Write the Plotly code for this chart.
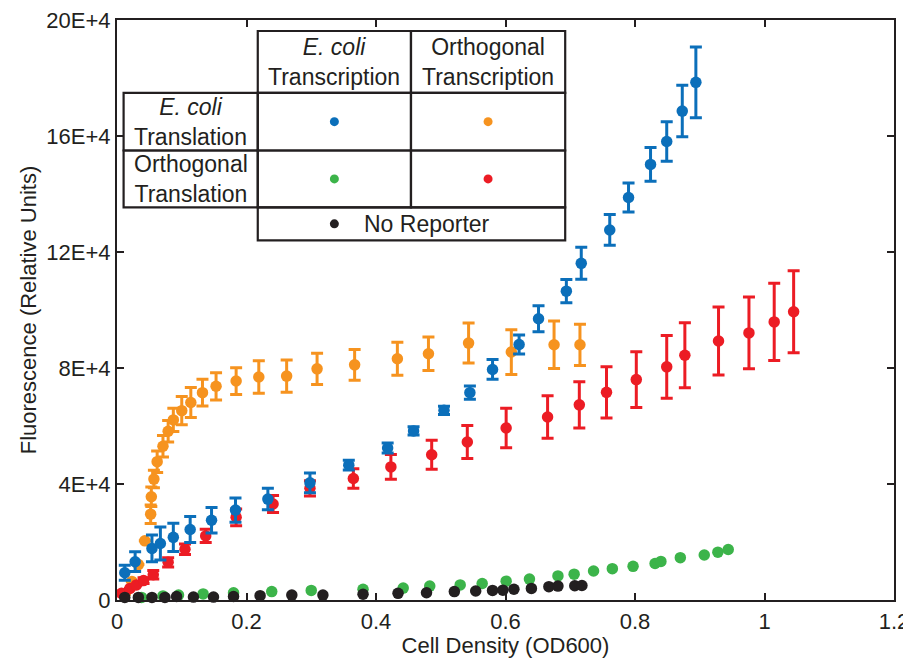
import plotly.graph_objects as go

# ---------------- data (x: OD600, y: fluorescence in units of 1E+4) ----------------
orange_x = [0.012, 0.023, 0.033, 0.043, 0.052, 0.053, 0.057, 0.062, 0.071, 0.079, 0.087, 0.100,
            0.114, 0.132, 0.153, 0.184, 0.219, 0.262, 0.309, 0.367, 0.433, 0.481, 0.543, 0.609,
            0.675, 0.715]
orange_y = [0.20, 0.64, 1.22, 2.04, 2.96, 3.56, 4.17, 4.77, 5.30, 5.82, 6.21, 6.53,
            6.81, 7.15, 7.37, 7.55, 7.69, 7.72, 7.97, 8.11, 8.32, 8.49, 8.86, 8.55,
            8.80, 8.80]
orange_e = [0.0, 0.0, 0.0, 0.0, 0.32, 0.34, 0.30, 0.37, 0.37, 0.37, 0.40, 0.49,
            0.52, 0.46, 0.47, 0.46, 0.56, 0.56, 0.54, 0.53, 0.57, 0.58, 0.69, 0.77,
            0.82, 0.71]

blue_x = [0.012, 0.028, 0.054, 0.067, 0.087, 0.113, 0.146, 0.183, 0.233, 0.298, 0.358, 0.418,
          0.458, 0.505, 0.545, 0.580, 0.621, 0.651, 0.694, 0.717, 0.761, 0.790, 0.824, 0.849,
          0.873, 0.894]
blue_y = [0.94, 1.32, 1.78, 1.95, 2.16, 2.43, 2.75, 3.10, 3.48, 4.04, 4.65, 5.24,
          5.83, 6.54, 7.15, 7.95, 8.81, 9.70, 10.65, 11.61, 12.76, 13.88, 15.02, 15.81,
          16.86, 17.85]
blue_e = [0.26, 0.34, 0.46, 0.57, 0.49, 0.45, 0.44, 0.42, 0.37, 0.34, 0.17, 0.17,
          0.14, 0.14, 0.23, 0.34, 0.33, 0.45, 0.40, 0.55, 0.53, 0.50, 0.58, 0.68,
          0.89, 1.22]

red_x = [0.007, 0.020, 0.030, 0.041, 0.056, 0.079, 0.105, 0.137, 0.184, 0.241, 0.298, 0.365,
         0.423, 0.486, 0.541, 0.601, 0.665, 0.714, 0.756, 0.802, 0.849, 0.877, 0.929, 0.976,
         1.015, 1.045]
red_y = [0.23, 0.40, 0.52, 0.67, 0.87, 1.30, 1.75, 2.21, 2.85, 3.31, 3.85, 4.19,
         4.59, 5.01, 5.45, 5.93, 6.31, 6.73, 7.16, 7.60, 8.04, 8.44, 8.93, 9.21,
         9.59, 9.94]
red_e = [0.0, 0.0, 0.0, 0.10, 0.15, 0.16, 0.18, 0.23, 0.29, 0.29, 0.26, 0.34,
         0.43, 0.50, 0.57, 0.68, 0.73, 0.80, 0.88, 0.96, 1.08, 1.12, 1.17, 1.24,
         1.33, 1.41]

green_x = [0.038, 0.071, 0.095, 0.133, 0.180, 0.239, 0.300, 0.380, 0.442, 0.483, 0.530, 0.564,
           0.601, 0.637, 0.681, 0.706, 0.736, 0.765, 0.797, 0.831, 0.840, 0.870, 0.907, 0.928,
           0.944]
green_y = [0.09, 0.14, 0.17, 0.21, 0.25, 0.29, 0.33, 0.37, 0.41, 0.48, 0.52, 0.57,
           0.65, 0.72, 0.83, 0.89, 1.00, 1.08, 1.16, 1.26, 1.33, 1.46, 1.55, 1.65,
           1.74]

black_x = [0.012, 0.033, 0.054, 0.074, 0.092, 0.118, 0.149, 0.180, 0.221, 0.270, 0.318, 0.380,
           0.434, 0.478, 0.521, 0.554, 0.580, 0.596, 0.613, 0.640, 0.667, 0.681, 0.707, 0.718]
black_y = [0.09, 0.09, 0.09, 0.09, 0.12, 0.10, 0.10, 0.12, 0.15, 0.17, 0.17, 0.20,
           0.23, 0.25, 0.29, 0.31, 0.33, 0.34, 0.37, 0.40, 0.46, 0.48, 0.49, 0.50]

x_ticks = [0, 0.2, 0.4, 0.6, 0.8, 1.0, 1.2]
x_ticktext = ["0", "0.2", "0.4", "0.6", "0.8", "1", "1.2"]
y_ticks = [0, 40000, 80000, 120000, 160000, 200000]
y_ticktext = ["0", "4E+4", "8E+4", "12E+4", "16E+4", "20E+4"]

SCALE = 1e4
C_BLUE = "#0b6fba"
C_ORANGE = "#f6931f"
C_RED = "#ec1c24"
C_GREEN = "#3cb44a"
C_BLACK = "#231f20"
AXC = "#231f20"
FONT = "Liberation Sans, Arial, sans-serif"

fig = go.Figure()


def add_series(xs, ys, errs, color):
    kw = {}
    if errs is not None:
        kw["error_y"] = dict(type="data", array=[e * SCALE for e in errs], visible=True,
                             color=color, thickness=3, width=6)
    fig.add_trace(go.Scatter(
        x=xs, y=[v * SCALE for v in ys], mode="markers",
        marker=dict(color=color, size=11.5, line=dict(width=0)),
        showlegend=False, cliponaxis=False, **kw))


add_series(orange_x, orange_y, orange_e, C_ORANGE)
add_series(red_x, red_y, red_e, C_RED)
add_series(blue_x, blue_y, blue_e, C_BLUE)
add_series(green_x, green_y, None, C_GREEN)
add_series(black_x, black_y, None, C_BLACK)

# ---------------- legend table ----------------
X0, X1, X2, X3 = 0.0102, 0.2174, 0.4540, 0.6922
Y0, Y1, Y2, Y3, Y4 = 196200, 174900, 155000, 135400, 124000
cells = [
    (X1, Y1, X2, Y0), (X2, Y1, X3, Y0),
    (X0, Y2, X1, Y1), (X0, Y3, X1, Y2),
    (X1, Y2, X2, Y1), (X2, Y2, X3, Y1),
    (X1, Y3, X2, Y2), (X2, Y3, X3, Y2),
    (X1, Y4, X3, Y3),
]
shapes = []
for (a, b, c, d) in cells:
    shapes.append(dict(type="rect", xref="x", yref="y", x0=a, y0=b, x1=c, y1=d,
                       line=dict(color=AXC, width=2.2), fillcolor="rgba(0,0,0,0)", layer="above"))

dots = [((X1 + X2) / 2, (Y1 + Y2) / 2, C_BLUE), ((X2 + X3) / 2, (Y1 + Y2) / 2, C_ORANGE),
        ((X1 + X2) / 2, (Y2 + Y3) / 2, C_GREEN), ((X2 + X3) / 2, (Y2 + Y3) / 2, C_RED),
        ((X1 + X2) / 2, (Y3 + Y4) / 2, C_BLACK)]
for (cx, cy, col) in dots:
    shapes.append(dict(type="circle", xref="x", yref="y", xsizemode="pixel", ysizemode="pixel",
                       xanchor=cx, yanchor=cy, x0=-4.5, x1=4.5, y0=-4.5, y1=4.5,
                       fillcolor=col, line=dict(width=0), layer="above"))

tfont = dict(family=FONT, size=23, color=AXC)
annotations = [
    dict(x=(X1 + X2) / 2, y=(Y0 + Y1) / 2, text="<i>E. coli</i><br>Transcription"),
    dict(x=(X2 + X3) / 2, y=(Y0 + Y1) / 2, text="Orthogonal<br>Transcription"),
    dict(x=(X0 + X1) / 2, y=(Y1 + Y2) / 2, text="<i>E. coli</i><br>Translation"),
    dict(x=(X0 + X1) / 2, y=(Y2 + Y3) / 2, text="Orthogonal<br>Translation"),
    dict(x=0.479, y=(Y3 + Y4) / 2, text="No Reporter"),
]
for a in annotations:
    a.update(xref="x", yref="y", showarrow=False, font=tfont, xanchor="center", yanchor="middle")

axis_common = dict(showline=True, linecolor=AXC, linewidth=2.2, mirror="ticks",
                   ticks="inside", ticklen=7, tickwidth=2, tickcolor=AXC,
                   showgrid=False, zeroline=False, automargin=False,
                   ticklabeloverflow="allow",
                   tickfont=dict(family=FONT, size=22, color=AXC))

# The page body has an 8px margin, so the figure is sized/margined to compensate.
fig.update_layout(
    width=903, height=650,
    margin=dict(l=109, r=17, t=12, b=58, autoexpand=False),
    paper_bgcolor="white", plot_bgcolor="white",
    xaxis=dict(range=[0, 1.2], tickvals=x_ticks, ticktext=x_ticktext,
               title=dict(text="Cell Density (OD600)", font=dict(family=FONT, size=22, color=AXC),
                          standoff=0),
               **axis_common),
    yaxis=dict(range=[0, 200000], tickvals=y_ticks, ticktext=y_ticktext,
               title=dict(text="Fluorescence (Relative Units)",
                          font=dict(family=FONT, size=22, color=AXC), standoff=4),
               **axis_common),
    shapes=shapes,
    annotations=annotations,
)

fig.write_html("out.html")
